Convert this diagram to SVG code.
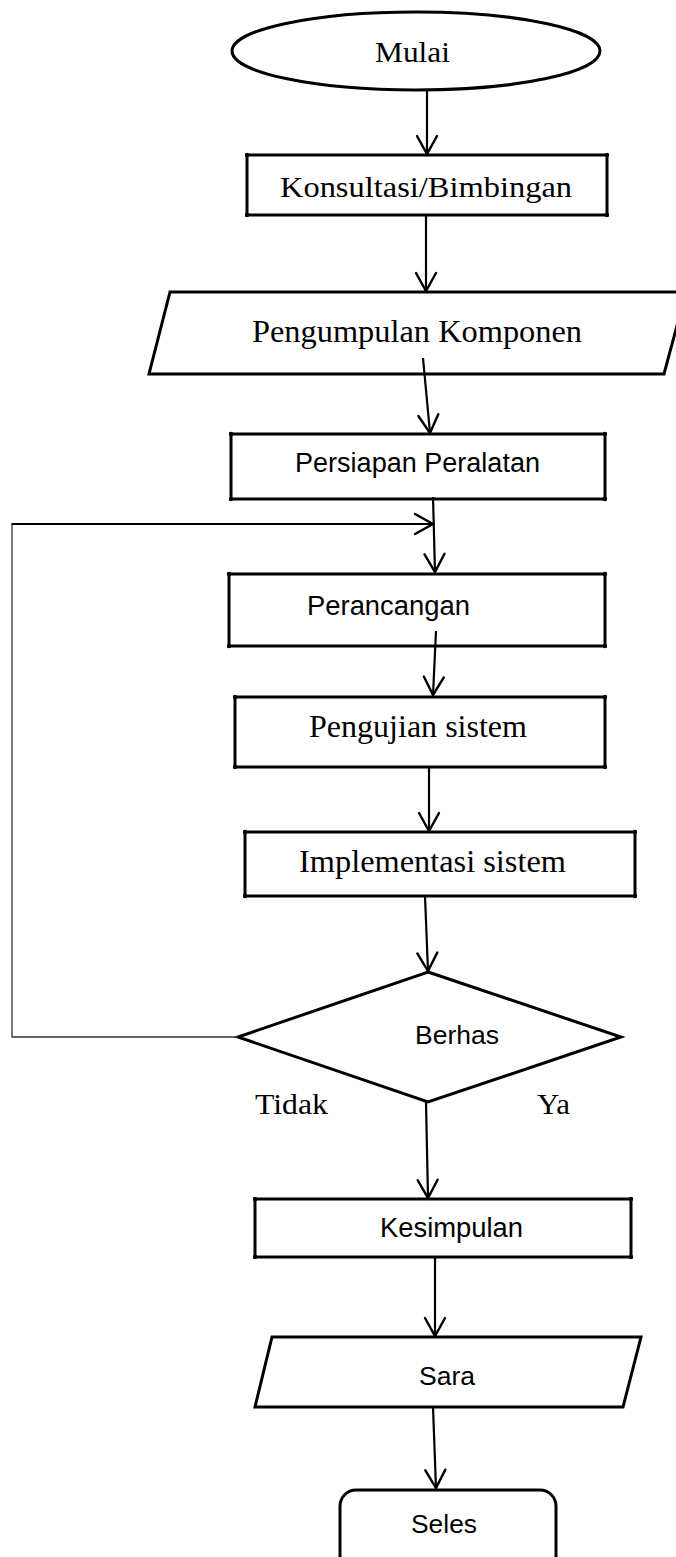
<svg xmlns="http://www.w3.org/2000/svg" width="676" height="1557" viewBox="0 0 676 1557">
<style>
.shape{fill:#fff;stroke:#000;stroke-width:3;stroke-linejoin:miter}
.dot{fill:#000}
.serif{font-family:"Liberation Serif","Times New Roman",serif;fill:#000}
.sans{font-family:"Liberation Sans",Arial,sans-serif;fill:#000}
.conn{fill:none;stroke:#000;stroke-width:2.2}
.thin{fill:none;stroke:#333;stroke-width:1.3}
</style>
<defs>
<marker id="arr" markerUnits="userSpaceOnUse" markerWidth="30" markerHeight="30" refX="20" refY="12" orient="auto" viewBox="0 0 30 30">
<path d="M2,2 L20,12 L2,22" fill="none" stroke="#000" stroke-width="2.4" stroke-linecap="round" stroke-linejoin="miter"/>
</marker>
</defs>
<rect width="676" height="1557" fill="#fff"/>

<g id="mulai">
<ellipse class="shape" cx="416" cy="51" rx="184" ry="39" stroke-width="2.6"/>
<text class="serif" x="375" y="62" font-size="30" textLength="75" lengthAdjust="spacingAndGlyphs">Mulai</text>
</g>

<g id="konsultasi">
<rect class="shape" x="247" y="155" width="360" height="60"/>
<circle class="dot" cx="247" cy="155" r="2.2"/><circle class="dot" cx="607" cy="155" r="2.2"/>
<circle class="dot" cx="247" cy="215" r="2.2"/><circle class="dot" cx="607" cy="215" r="2.2"/>
<text class="serif" x="280" y="197" font-size="29" textLength="292" lengthAdjust="spacingAndGlyphs">Konsultasi/Bimbingan</text>
</g>

<g id="pengumpulan">
<polygon class="shape" points="170,292 686,292 664,374 149,374"/>
<text class="serif" x="252" y="342" font-size="32" textLength="330" lengthAdjust="spacingAndGlyphs">Pengumpulan Komponen</text>
</g>

<g id="persiapan">
<rect class="shape" x="231" y="434" width="374" height="65"/>
<circle class="dot" cx="231" cy="434" r="2.2"/><circle class="dot" cx="605" cy="434" r="2.2"/>
<circle class="dot" cx="231" cy="499" r="2.2"/><circle class="dot" cx="605" cy="499" r="2.2"/>
<text class="sans" x="295" y="472" font-size="27" textLength="245" lengthAdjust="spacingAndGlyphs">Persiapan Peralatan</text>
</g>

<g id="perancangan">
<rect class="shape" x="229" y="574" width="376" height="72"/>
<circle class="dot" cx="229" cy="574" r="2.2"/><circle class="dot" cx="605" cy="574" r="2.2"/>
<circle class="dot" cx="229" cy="646" r="2.2"/><circle class="dot" cx="605" cy="646" r="2.2"/>
<text class="sans" x="307" y="615" font-size="27" textLength="163" lengthAdjust="spacingAndGlyphs">Perancangan</text>
</g>

<g id="pengujian">
<rect class="shape" x="235" y="697" width="370" height="70"/>
<circle class="dot" cx="235" cy="697" r="2.2"/><circle class="dot" cx="605" cy="697" r="2.2"/>
<circle class="dot" cx="235" cy="767" r="2.2"/><circle class="dot" cx="605" cy="767" r="2.2"/>
<text class="serif" x="309" y="737" font-size="32" textLength="218" lengthAdjust="spacingAndGlyphs">Pengujian sistem</text>
</g>

<g id="implementasi">
<rect class="shape" x="245" y="832" width="390" height="64"/>
<circle class="dot" cx="245" cy="832" r="2.2"/><circle class="dot" cx="635" cy="832" r="2.2"/>
<circle class="dot" cx="245" cy="896" r="2.2"/><circle class="dot" cx="635" cy="896" r="2.2"/>
<text class="serif" x="299" y="872" font-size="32" textLength="267" lengthAdjust="spacingAndGlyphs">Implementasi sistem</text>
</g>

<g id="berhas">
<polygon class="shape" points="428,972 621,1037 428,1102 238,1037" stroke-width="3"/>
<text class="sans" x="415" y="1044" font-size="26.5" textLength="84" lengthAdjust="spacingAndGlyphs">Berhas</text>
<text class="serif" x="255" y="1114" font-size="30" textLength="73" lengthAdjust="spacingAndGlyphs">Tidak</text>
<text class="serif" x="537" y="1114" font-size="30" textLength="33" lengthAdjust="spacingAndGlyphs">Ya</text>
</g>

<g id="kesimpulan">
<rect class="shape" x="255" y="1199" width="376" height="58"/>
<circle class="dot" cx="255" cy="1199" r="2.2"/><circle class="dot" cx="631" cy="1199" r="2.2"/>
<circle class="dot" cx="255" cy="1257" r="2.2"/><circle class="dot" cx="631" cy="1257" r="2.2"/>
<text class="sans" x="380" y="1237" font-size="27" textLength="143" lengthAdjust="spacingAndGlyphs">Kesimpulan</text>
</g>

<g id="sara">
<polygon class="shape" points="272,1337 641,1337 623,1407 255,1407"/>
<text class="sans" x="419" y="1385" font-size="26.5" textLength="56" lengthAdjust="spacingAndGlyphs">Sara</text>
</g>

<g id="seles">
<rect class="shape" x="340" y="1490" width="216" height="100" rx="16" ry="16"/>
<text class="sans" x="411" y="1533" font-size="26.5" textLength="66" lengthAdjust="spacingAndGlyphs">Seles</text>
</g>

<g id="connectors">
<line class="conn" x1="427" y1="90" x2="427" y2="154" marker-end="url(#arr)"/>
<line class="conn" x1="426" y1="215" x2="426" y2="291" marker-end="url(#arr)"/>
<line class="conn" x1="423" y1="358" x2="430" y2="433" marker-end="url(#arr)"/>
<line class="conn" x1="433" y1="497" x2="435" y2="572" marker-end="url(#arr)"/>
<polyline class="thin" points="238,1037 12,1037 12,524"/>
<line class="conn" x1="11.5" y1="524" x2="433" y2="524" marker-end="url(#arr)"/>
<line class="conn" x1="436" y1="631" x2="433" y2="695" marker-end="url(#arr)"/>
<line class="conn" x1="429" y1="767" x2="429" y2="831" marker-end="url(#arr)"/>
<line class="conn" x1="425" y1="896" x2="428" y2="971" marker-end="url(#arr)"/>
<line class="conn" x1="426" y1="1102" x2="428" y2="1198" marker-end="url(#arr)"/>
<line class="conn" x1="435" y1="1257" x2="435" y2="1336" marker-end="url(#arr)"/>
<line class="conn" x1="433" y1="1407" x2="436" y2="1488" marker-end="url(#arr)"/>
</g>
</svg>
